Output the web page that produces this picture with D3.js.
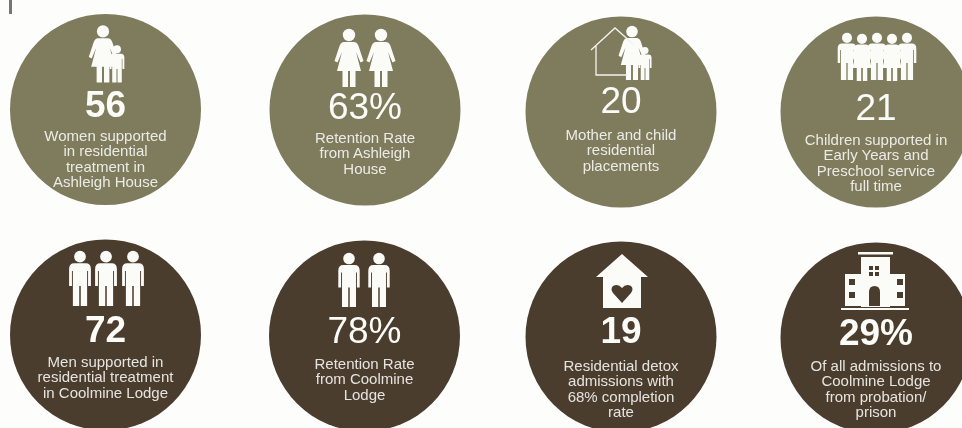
<!DOCTYPE html>
<html>
<head>
<meta charset="utf-8">
<script src="https://cdnjs.cloudflare.com/ajax/libs/d3/7.8.5/d3.min.js"></script>
<style>
html,body{margin:0;padding:0;background:#fdfdfc;overflow:hidden}
svg{display:block}
text{font-family:"Liberation Sans",Arial,sans-serif;fill:#fbfbf8;text-anchor:middle}
</style>
</head>
<body>
<svg id="c" width="962" height="428"></svg>
<script>
// ---- content ----
const metricValues = ["56","63%","20","21","72","78%","19","29%"];
const metricCaptions = [
  ["Women supported","in residential","treatment in","Ashleigh House"],
  ["Retention Rate","from Ashleigh","House"],
  ["Mother and child","residential","placements"],
  ["Children supported in","Early Years and","Preschool service","full time"],
  ["Men supported in","residential treatment","in Coolmine Lodge"],
  ["Retention Rate","from Coolmine","Lodge"],
  ["Residential detox","admissions with","68% completion","rate"],
  ["Of all admissions to","Coolmine Lodge","from probation/","prison"]
];
const cardGroups = ["ashleigh","ashleigh","ashleigh","ashleigh","coolmine","coolmine","coolmine","coolmine"];
const groupNames = ["ashleigh","coolmine"];

// ---- layout (not data) ----
const cardIds = d3.range(metricValues.length);
const cx = d3.scaleOrdinal().domain(cardIds).range([105.5,365,621,876,105.5,364.5,621,876]);
const cy = d3.scaleOrdinal().domain(cardIds).range([109.5,110,112,112,335,336,337,338]);
const fill = d3.scaleOrdinal().domain(groupNames).range(["#7e7b5d","#4b3d2e"]);
const R = 95.5;
const numberDy  = [7.5,9,1,8,7,7,6,7];
const captionDy = [31.5,33,28,33,32,33,34,33];
const numberWeight = ["bold","normal","normal","normal","bold","normal","bold","bold"];
const lineGap = 15.3;

// icon glyphs: head + body in a 58-unit-tall box, origin at top-centre
const WOMAN = "M-5,13 L5,13 Q8,13 9.5,17 L14.5,32 L11.5,33.5 L7,23 L12,42 L6.5,42 L6.5,58 L1,58 L1,42 L-1,42 L-1,58 L-6.5,58 L-6.5,42 L-12,42 L-7,23 L-11.5,33.5 L-14.5,32 L-9.5,17 Q-8,13 -5,13Z";
const MAN = "M-6,13 L6,13 Q11.5,13 11.5,19 L11.5,37 L8.5,37 L8.5,21 L7.5,21 L7.5,58 L0.8,58 L0.8,37 L-0.8,37 L-0.8,58 L-7.5,58 L-7.5,21 L-8.5,21 L-8.5,37 L-11.5,37 L-11.5,19 Q-11.5,13 -6,13Z";
const icons = [
  [["w",-2.5,-84,57],["m",11.5,-64,37]],
  [["w",-16,-81,58],["w",16,-81,58]],
  [["w",11,-86,54],["m",24,-65,33]],
  [["m",-29,-79,47],["w",-14,-78,47],["m",1,-79,47],["w",16,-78,47],["m",31,-79,47]],
  [["m",-25.5,-84,55],["m",0.5,-84,55],["m",27.5,-84,55]],
  [["m",-15.5,-83,54],["m",14.5,-83,54]],
  [],[]
];

const svg = d3.select("#c");
const defs = svg.append("defs");
defs.append("filter").attr("id","soft").append("feGaussianBlur").attr("stdDeviation",0.7);

const root = svg.append("g").attr("filter","url(#soft)");
root.append("rect").attr("x",9).attr("y",0).attr("width",3).attr("height",14).attr("fill","#77776f");

const card = root.selectAll("g.card").data(cardIds).join("g")
  .attr("class","card")
  .attr("transform",i=>`translate(${cx(i)},${cy(i)})`);

card.append("circle").attr("r",R).attr("fill",i=>fill(cardGroups[i]));

function person(g,[kind,x,y,h]){
  const p = g.append("g").attr("transform",`translate(${x},${y}) scale(${h/58})`).attr("fill","#fbfbf8");
  p.append("circle").attr("cy",6).attr("r",6.2);
  p.append("path").attr("d",kind==="w"?WOMAN:MAN);
}
card.each(function(i){
  const g = d3.select(this);
  icons[i].forEach(d=>person(g,d));
  const dark = fill(cardGroups[i]);
  if(i===2){
    g.append("path").attr("fill","none").attr("stroke","#f4f4ee").attr("stroke-width",1.3)
      .attr("d","M-30,-62 L-6,-84 L12,-68 M-25,-66 L-25,-37 L7,-37");
  }
  if(i===6){
    g.append("path").attr("fill","#fbfbf8").attr("d","M1,-83 L27,-60 L20,-60 L20,-29 L-18,-29 L-18,-60 L-25,-60Z");
    g.append("path").attr("fill",dark).attr("d","M1,-34 L-8,-44 Q-11,-48 -8,-51 Q-3,-54 1,-49 Q5,-54 10,-51 Q13,-48 10,-44Z");
  }
  if(i===7){
    const w = "#fbfbf8";
    const rect=(x,y,wd,h,c)=>g.append("rect").attr("x",x).attr("y",y).attr("width",wd).attr("height",h).attr("fill",c);
    rect(-18,-86,35,2.5,w);
    rect(-15,-81,29,50,w);
    rect(-31,-64,60,32,w);
    rect(-35,-30,68,2,w);
    [[-7,-72],[-1,-72],[-7,-66],[-1,-66]].forEach(([x,y])=>rect(x,y,4,4,dark));
    [[-27,-59],[-27,-46],[21,-59],[21,-46]].forEach(([x,y])=>rect(x,y,6,6,dark));
    g.append("path").attr("fill",dark).attr("d","M-7,-32 L-7,-46 Q-7,-52 -1.5,-52 Q4,-52 4,-46 L4,-32Z");
  }
});

card.append("text").text(i=>metricValues[i])
  .attr("y",i=>numberDy[i]).attr("font-size",37).attr("font-weight",i=>numberWeight[i]);

card.append("g").attr("opacity",0.88).selectAll("text").data(i=>metricCaptions[i].map((t,k)=>({t,k,i}))).join("text")
  .text(d=>d.t)
  .attr("y",d=>captionDy[d.i]+d.k*lineGap)
  .attr("font-size",15);
</script>
</body>
</html>
